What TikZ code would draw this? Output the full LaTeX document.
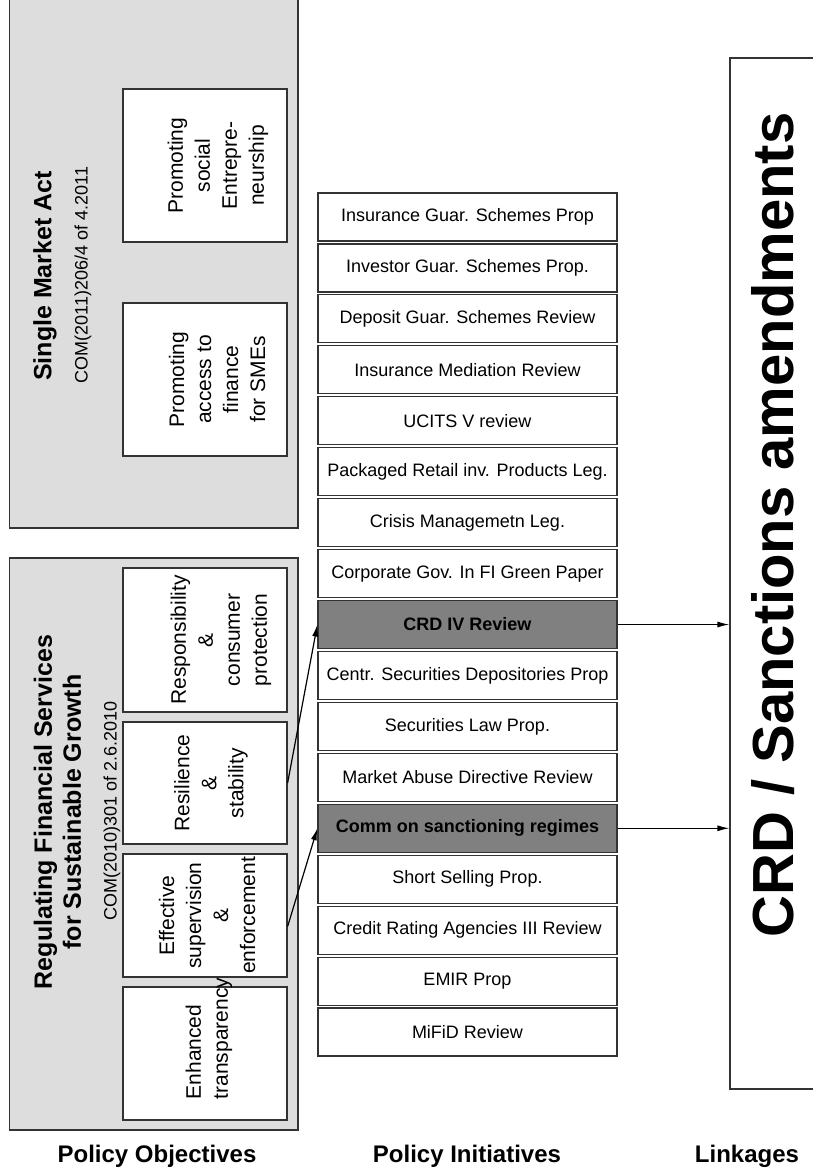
\documentclass[tikz,border=0pt]{standalone}
\usepackage{fontspec}
\setmainfont{Liberation Sans}
\usepackage{tikz}
\usetikzlibrary{arrows.meta,positioning}
\definecolor{panel}{HTML}{DDDDDD}
\definecolor{hilite}{HTML}{808080}
\newcommand{\fs}[2]{\fontsize{#1}{#2}\selectfont}

\begin{document}
\begin{tikzpicture}[x=1pt,y=-1pt,>=latex,node distance=1.74pt]
\tikzstyle{grp}=[draw=black!80,line width=1.2pt,fill=panel,inner sep=0pt]
\tikzstyle{obj}=[draw=black!80,line width=1.2pt,fill=white,rotate=90,inner sep=0pt,minimum height=164pt]
\tikzstyle{objt}=[rotate=90,align=center,inner sep=0pt,font=\fs{21}{27}]
\tikzstyle{ttl}=[rotate=90,align=center,font=\fs{25}{29}\bfseries]
\tikzstyle{ref}=[rotate=90,font=\fs{18}{21}]
\tikzstyle{ini}=[draw=black!80,line width=1.2pt,fill=white,minimum width=299pt,minimum height=48pt,inner sep=0pt,font=\fs{18}{21}]
\tikzstyle{hot}=[ini,fill=hilite,font=\fs{18}{21}\bfseries]
\tikzstyle{pull}=[-{Latex[length=12pt,width=6pt]},line width=1.2pt]
\tikzstyle{foot}=[font=\fs{24}{28}\bfseries]
\useasboundingbox (0,0) rectangle (812,1175);
\node[grp,minimum width=288.5pt,minimum height=533pt] (sma) at (153.75,261.5) {};
\node[ttl] (smat) at (45,276) {Single Market Act};
\node[ref] (smar) at (83,275) {COM(2011)206/4 of 4.2011};
\node[obj,minimum width=153pt] (soc) at (205,165.5) {};
\node[objt] (soct) at ([xshift=13pt]soc.center) {Promoting\\social\\Entrepre-\\neurship};
\node[obj,minimum width=153pt] (sme) at (205,379.5) {};
\node[objt] (smet) at ([xshift=12pt]sme.center) {Promoting\\access to\\finance\\for SMEs};
\node[grp,minimum width=288.5pt,minimum height=572pt] (rfs) at (153.75,844) {};
\node[ttl] (rfst) at (57.5,812) {Regulating Financial Services\\for Sustainable Growth};
\node[ref] (rfsr) at (112,811) {COM(2010)301 of 2.6.2010};
\node[obj,minimum width=144pt] (resp) at (205,640) {};
\node[objt] (respt) at ([xshift=16pt]resp.center) {Responsibility\\\&\\consumer\\protection};
\node[obj,minimum width=122pt] (resil) at (205,783) {};
\node[objt] (resilt) at ([xshift=6pt]resil.center) {Resilience\\\&\\stability};
\node[obj,minimum width=123pt] (eff) at (205,915.5) {};
\node[objt] (efft) at ([xshift=2pt]eff.center) {Effective\\supervision\\\&\\enforcement};
\node[obj,minimum width=133pt] (enh) at (205,1053.5) {};
\node[objt,align=left] (enht) at ([xshift=4pt,yshift=15pt]enh.center) {Enhanced\\transparency};
\node[ini] (r1) at (467.5,217) {Insurance Guar. Schemes Prop};
\node[ini,below=of r1] (r2) {Investor Guar. Schemes Prop.};
\node[ini,below=of r2] (r3) {Deposit Guar. Schemes Review};
\node[ini,below=of r3] (r4) {Insurance Mediation Review};
\node[ini,below=of r4] (r5) {UCITS V review};
\node[ini,below=of r5] (r6) {Packaged Retail inv. Products Leg.};
\node[ini,below=of r6] (r7) {Crisis Managemetn Leg.};
\node[ini,below=of r7] (r8) {Corporate Gov. In FI Green Paper};
\node[hot,below=of r8] (crd) {CRD IV Review};
\node[ini,below=of crd] (r10) {Centr. Securities Depositories Prop};
\node[ini,below=of r10] (r11) {Securities Law Prop.};
\node[ini,below=of r11] (r12) {Market Abuse Directive Review};
\node[hot,below=of r12] (comm) {Comm on sanctioning regimes};
\node[ini,below=of comm] (r14) {Short Selling Prop.};
\node[ini,below=of r14] (r15) {Credit Rating Agencies III Review};
\node[ini,below=of r15] (r16) {EMIR Prop};
\node[ini,below=of r16] (r17) {MiFiD Review};
\node[draw=black!80,line width=1.2pt,minimum width=100pt,minimum height=1031pt,inner sep=0pt] (lnk) at (780,573.5) {};
\node[rotate=90,font=\fs{58}{64}\bfseries] (lnkt) at (773,525) {CRD / Sanctions amendments};
\draw[pull] (resil.south) -- (crd.west);
\draw[pull] ([yshift=-11pt]eff.south) -- (comm.west);
\draw[pull] (crd.east) -- (crd.east -| lnk.west);
\draw[pull] (comm.east) -- (comm.east -| lnk.west);
\node[foot] (fobj) at (157,1156) {Policy Objectives};
\node[foot] (fini) at (467,1156) {Policy Initiatives};
\node[foot] (flnk) at (747,1156) {Linkages};
\end{tikzpicture}
\end{document}
